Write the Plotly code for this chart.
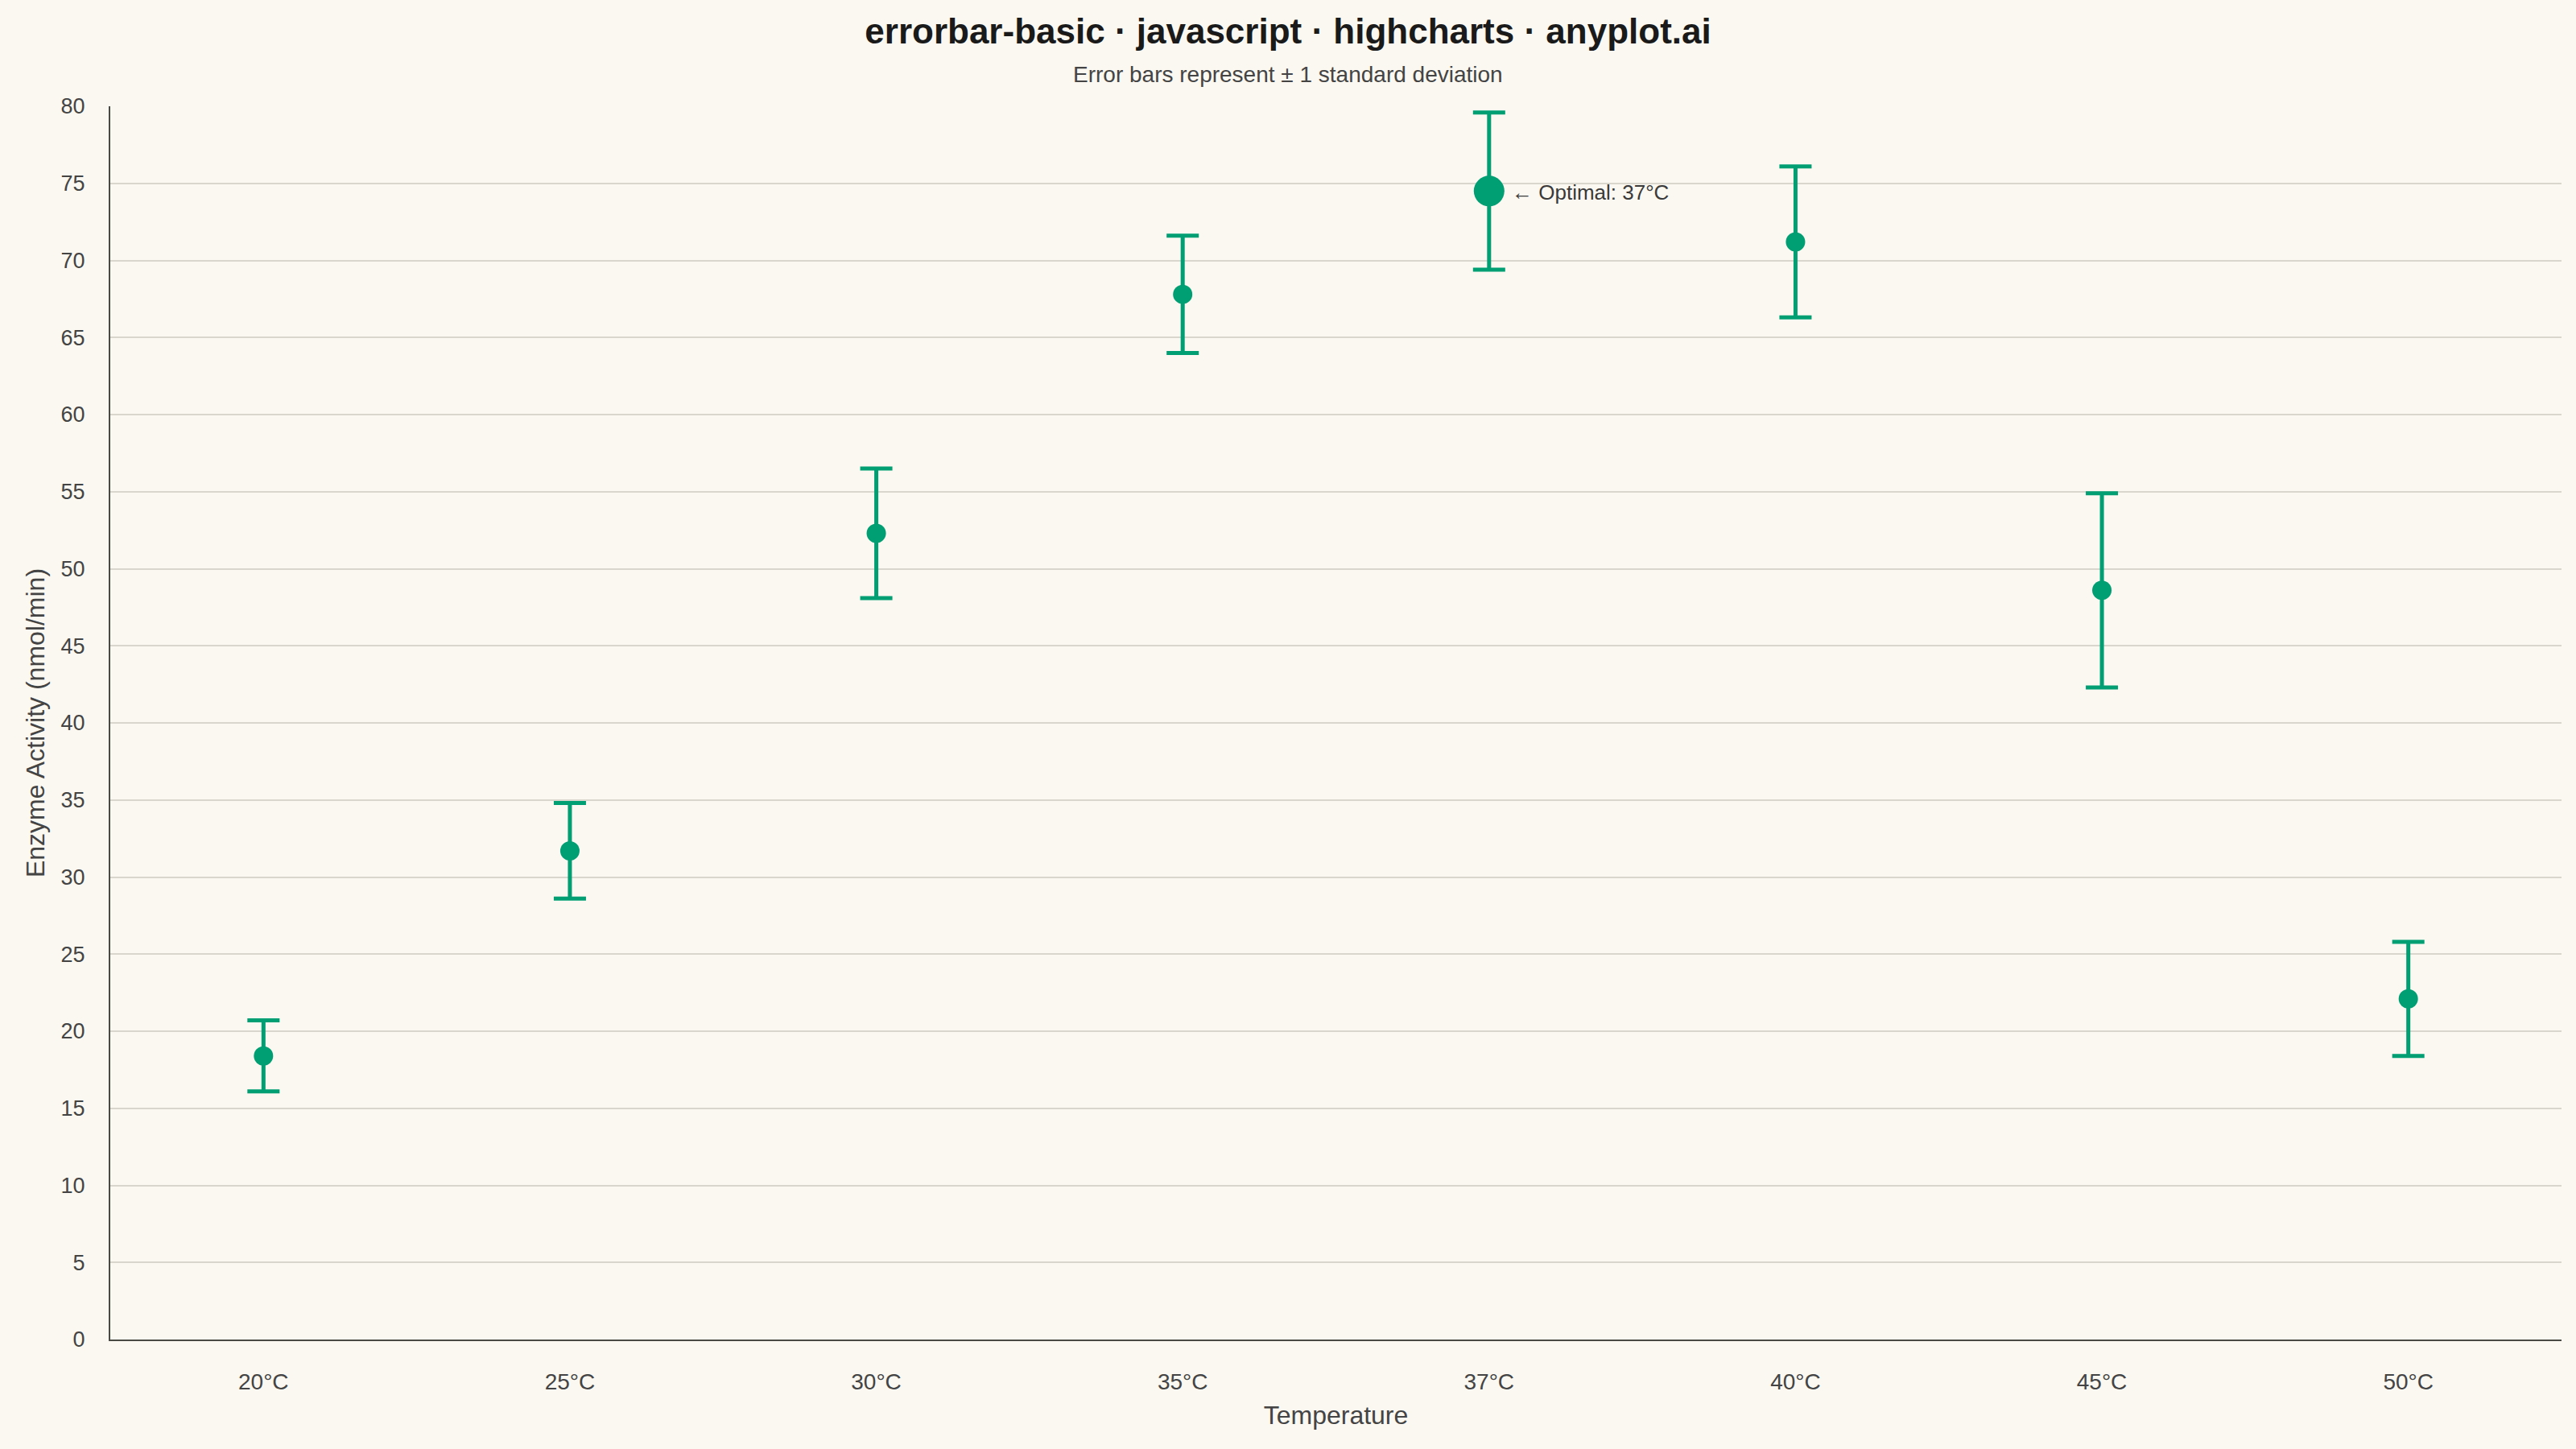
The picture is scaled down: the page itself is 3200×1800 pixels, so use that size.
import plotly.graph_objects as go

# Data: enzyme activity by temperature (mean +/- 1 SD)
temperatures = ["20°C", "25°C", "30°C", "35°C", "37°C", "40°C", "45°C", "50°C"]
activity_mean = [18.4, 31.7, 52.3, 67.8, 74.5, 71.2, 48.6, 22.1]
activity_sd = [2.3, 3.1, 4.2, 3.8, 5.1, 4.9, 6.3, 3.7]
optimal_temp = "37°C"

GREEN = "#009E73"
BG = "#FAF8F1"
FONT = "Liberation Sans, Arial, sans-serif"

W, H = 3200, 1800
M_L, M_R, M_T, M_B = 137, 18, 132, 136

marker_sizes = [38 if t == optimal_temp else 24 for t in temperatures]
opt_idx = temperatures.index(optimal_temp)

fig = go.Figure()
fig.add_trace(go.Scatter(
    x=temperatures,
    y=activity_mean,
    mode="markers",
    marker=dict(color=GREEN, size=marker_sizes, opacity=1, line=dict(width=0)),
    error_y=dict(type="data", array=activity_sd, visible=True,
                 color=GREEN, thickness=5, width=20),
    hoverinfo="skip",
    showlegend=False,
))

fig.add_annotation(
    x=temperatures[opt_idx], y=activity_mean[opt_idx],
    text="← Optimal: 37°C", showarrow=False,
    xanchor="left", yanchor="middle", xshift=26, yshift=-2,
    font=dict(family=FONT, size=26, color="#3a3a3a"),
)

# subtitle, centred on the page rather than the plot area
fig.add_annotation(
    x=(W / 2 - M_L) / (W - M_L - M_R), xref="paper", y=1.026, yref="paper",
    text="Error bars represent ± 1 standard deviation", showarrow=False,
    xanchor="center", yanchor="middle",
    font=dict(family=FONT, size=28, color="#444444"),
)

fig.update_layout(
    width=W, height=H,
    paper_bgcolor=BG, plot_bgcolor=BG,
    margin=dict(l=M_L, r=M_R, t=M_T, b=M_B),
    font=dict(family=FONT, color="#444444"),
    title=dict(
        text="<b>errorbar-basic · javascript · highcharts · anyplot.ai</b>",
        x=0.5, xanchor="center", y=1 - 39 / H, yanchor="middle",
        yref="container",
        font=dict(family=FONT, size=44, color="#1a1a1a"),
    ),
    xaxis=dict(
        type="category",
        range=[-0.5, len(temperatures) - 0.5],
        showgrid=False, zeroline=False,
        showline=True, linecolor="#4a4a44", linewidth=2,
        ticks="", ticklabelstandoff=26,
        tickfont=dict(family=FONT, size=28, color="#444444"),
        title=dict(text="Temperature", standoff=16,
                   font=dict(family=FONT, size=32, color="#444444")),
    ),
    yaxis=dict(
        range=[0, 80], dtick=5, tick0=0,
        showgrid=True, gridcolor="#D9D6CE", gridwidth=1.5,
        zeroline=False,
        showline=True, linecolor="#4a4a44", linewidth=2,
        ticks="", ticklabelstandoff=24,
        tickfont=dict(family=FONT, size=27, color="#444444"),
        title=dict(text="Enzyme Activity (nmol/min)", standoff=10,
                   font=dict(family=FONT, size=32, color="#444444")),
    ),
)

fig.write_html("out.html", config={"displayModeBar": False},
               post_script="document.body.style.margin='0';")
